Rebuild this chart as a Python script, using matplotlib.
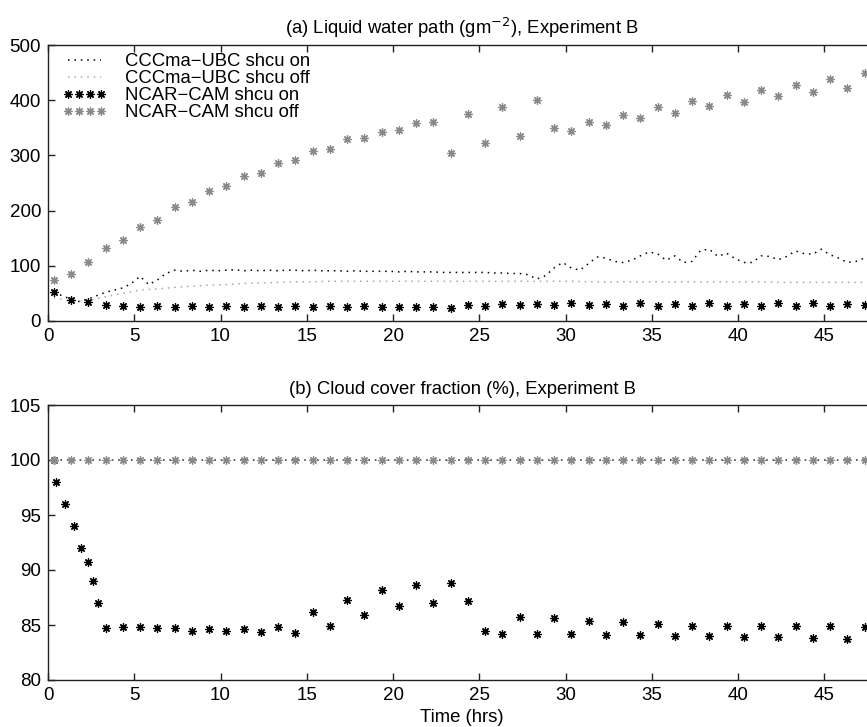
import numpy as np
import matplotlib
matplotlib.use("Agg")
from matplotlib import pyplot as plt

plt.rcParams['font.family'] = ['Liberation Sans', 'DejaVu Sans']

# model output times (hrs)
hours = np.arange(48) + 1/3.
half_hours = np.arange(95) * 0.5 + 1/3.

# (a) liquid water path, g m-2
cccma_on_lwp = [50, 46, 39, 35, 40, 46, 52, 56, 60, 68,
                81, 66, 74, 86, 92, 90, 92, 90, 92, 91,
                92, 93, 91, 92, 91, 92, 91, 92, 92, 91,
                92, 91, 91, 91, 90, 91, 90, 90, 90, 90,
                89, 90, 89, 89, 89, 88, 88, 88, 88, 88,
                88, 87, 87, 86, 86, 84, 76, 82, 96, 106,
                96, 92, 104, 116, 114, 108, 106, 110, 118, 125,
                122, 110, 118, 106, 108, 128, 130, 117, 123, 113,
                106, 106, 118, 117, 111, 117, 127, 122, 121, 130,
                120, 114, 106, 108, 114]
cccma_off_lwp = [42, 36, 37, 44, 50, 56, 58, 61, 63, 65,
                 66, 68, 69, 70, 71, 71, 72, 72, 72, 72,
                 72, 72, 72, 72, 72, 72, 72, 72, 72, 72,
                 72, 71, 71, 71, 71, 71, 71, 71, 71, 71,
                 71, 71, 70, 70, 70, 70, 70, 70]
ncar_on_lwp = [53, 38, 35, 29, 27, 25, 27, 25, 27, 25,
               27, 25, 27, 25, 27, 25, 27, 25, 27, 25,
               26, 25, 26, 23, 29, 28, 31, 29, 31, 29,
               32, 29, 31, 28, 32, 28, 31, 28, 32, 28,
               31, 28, 32, 28, 32, 28, 31, 29]
ncar_off_lwp = [75, 86, 106, 133, 147, 171, 183, 206, 215, 236,
                244, 263, 269, 287, 291, 308, 312, 329, 331, 342,
                346, 358, 361, 305, 375, 323, 388, 336, 400, 349,
                345, 361, 355, 374, 368, 387, 377, 398, 389, 409,
                397, 418, 407, 428, 414, 438, 422, 449]

# (b) cloud cover fraction, %
cccma_on_cc = [100] * len(hours)
cccma_off_cc = [100] * len(hours)
ncar_off_cc = [100] * len(hours)
ncar_on_cc_time = [0.33, 0.46, 0.99, 1.49, 1.89, 2.30, 2.59, 2.88] + list(hours[3:])
ncar_on_cc = [100, 98, 96, 94, 92, 90.7, 89, 87,
              84.7, 84.8, 84.8, 84.7, 84.7, 84.5, 84.6, 84.5, 84.6, 84.4,
              84.8, 84.3, 86.2, 84.9, 87.3, 85.9, 88.2, 86.7, 88.6, 87.0,
              88.85, 87.2, 84.5, 84.2, 85.7, 84.2, 85.6, 84.2, 85.4, 84.1,
              85.25, 84.1, 85.1, 84.0, 84.9, 84.0, 84.9, 83.95, 84.9, 83.9,
              84.9, 83.8, 84.9, 83.7, 84.85]

grey = '#8a8a8a'
light_grey = '#a6a6a6'
dots = (0, (1, 3.2))
star = (8, 2, 0)
fs = 13.3

fig = plt.figure(figsize=(8.67, 7.27), dpi=100)
ax1 = fig.add_axes([48/867., 1 - 321/727., 828/867., 276/727.])
ax2 = fig.add_axes([48/867., 1 - 680/727., 828/867., 275/727.])

ax1.plot(half_hours, cccma_on_lwp, color='black', linestyle=dots, lw=1.1,
         label='CCCma\u2212UBC shcu on')
ax1.plot(hours, cccma_off_lwp, color=light_grey, linestyle=dots, lw=1.1,
         label='CCCma\u2212UBC shcu off')
ax1.plot(hours, ncar_on_lwp, linestyle='none', marker=star, ms=6, mew=0.9,
         color='black', label='NCAR\u2212CAM shcu on')
ax1.plot(hours, ncar_off_lwp, linestyle='none', marker=star, ms=6, mew=0.9,
         color=grey, label='NCAR\u2212CAM shcu off')

ax2.plot(hours, cccma_off_cc, color=light_grey, linestyle=dots, lw=1.1)
ax2.plot(hours, cccma_on_cc, color='#444444', linestyle=dots, lw=1.1)
ax2.plot(ncar_on_cc_time, ncar_on_cc, linestyle='none', marker=star, ms=6,
         mew=0.9, color='black')
ax2.plot(hours, ncar_off_cc, linestyle='none', marker=star, ms=6, mew=0.9,
         color=grey)

ax1.set_ylim(0, 500)
ax1.set_yticks(np.arange(0, 501, 100))
ax2.set_ylim(80, 105)
ax2.set_yticks(np.arange(80, 106, 5))

for ax in (ax1, ax2):
    ax.set_xlim(0, 48)
    ax.set_xticks(np.arange(0, 46, 5))
    ax.tick_params(direction='in', top=True, right=True, length=5,
                   width=1.0, labelsize=13.5, pad=5, colors='#222222',
                   labelcolor='black')
    for s in ax.spines.values():
        s.set_color('#222222')
        s.set_linewidth(1.0)

ax1.set_title('(a) Liquid water path (gm$^{-2}$), Experiment B',
              fontsize=fs, pad=8)
ax2.set_title('(b) Cloud cover fraction (%), Experiment B',
              fontsize=fs, pad=8)
ax2.set_xlabel('Time (hrs)', fontsize=fs, labelpad=4)

ax1.legend(loc='upper left', bbox_to_anchor=(0.017, 0.971), frameon=False,
           fontsize=fs, numpoints=4, handlelength=2.4, handletextpad=1.0,
           labelspacing=0.0, borderpad=0, borderaxespad=0)

fig.savefig('out.png', dpi=100)
